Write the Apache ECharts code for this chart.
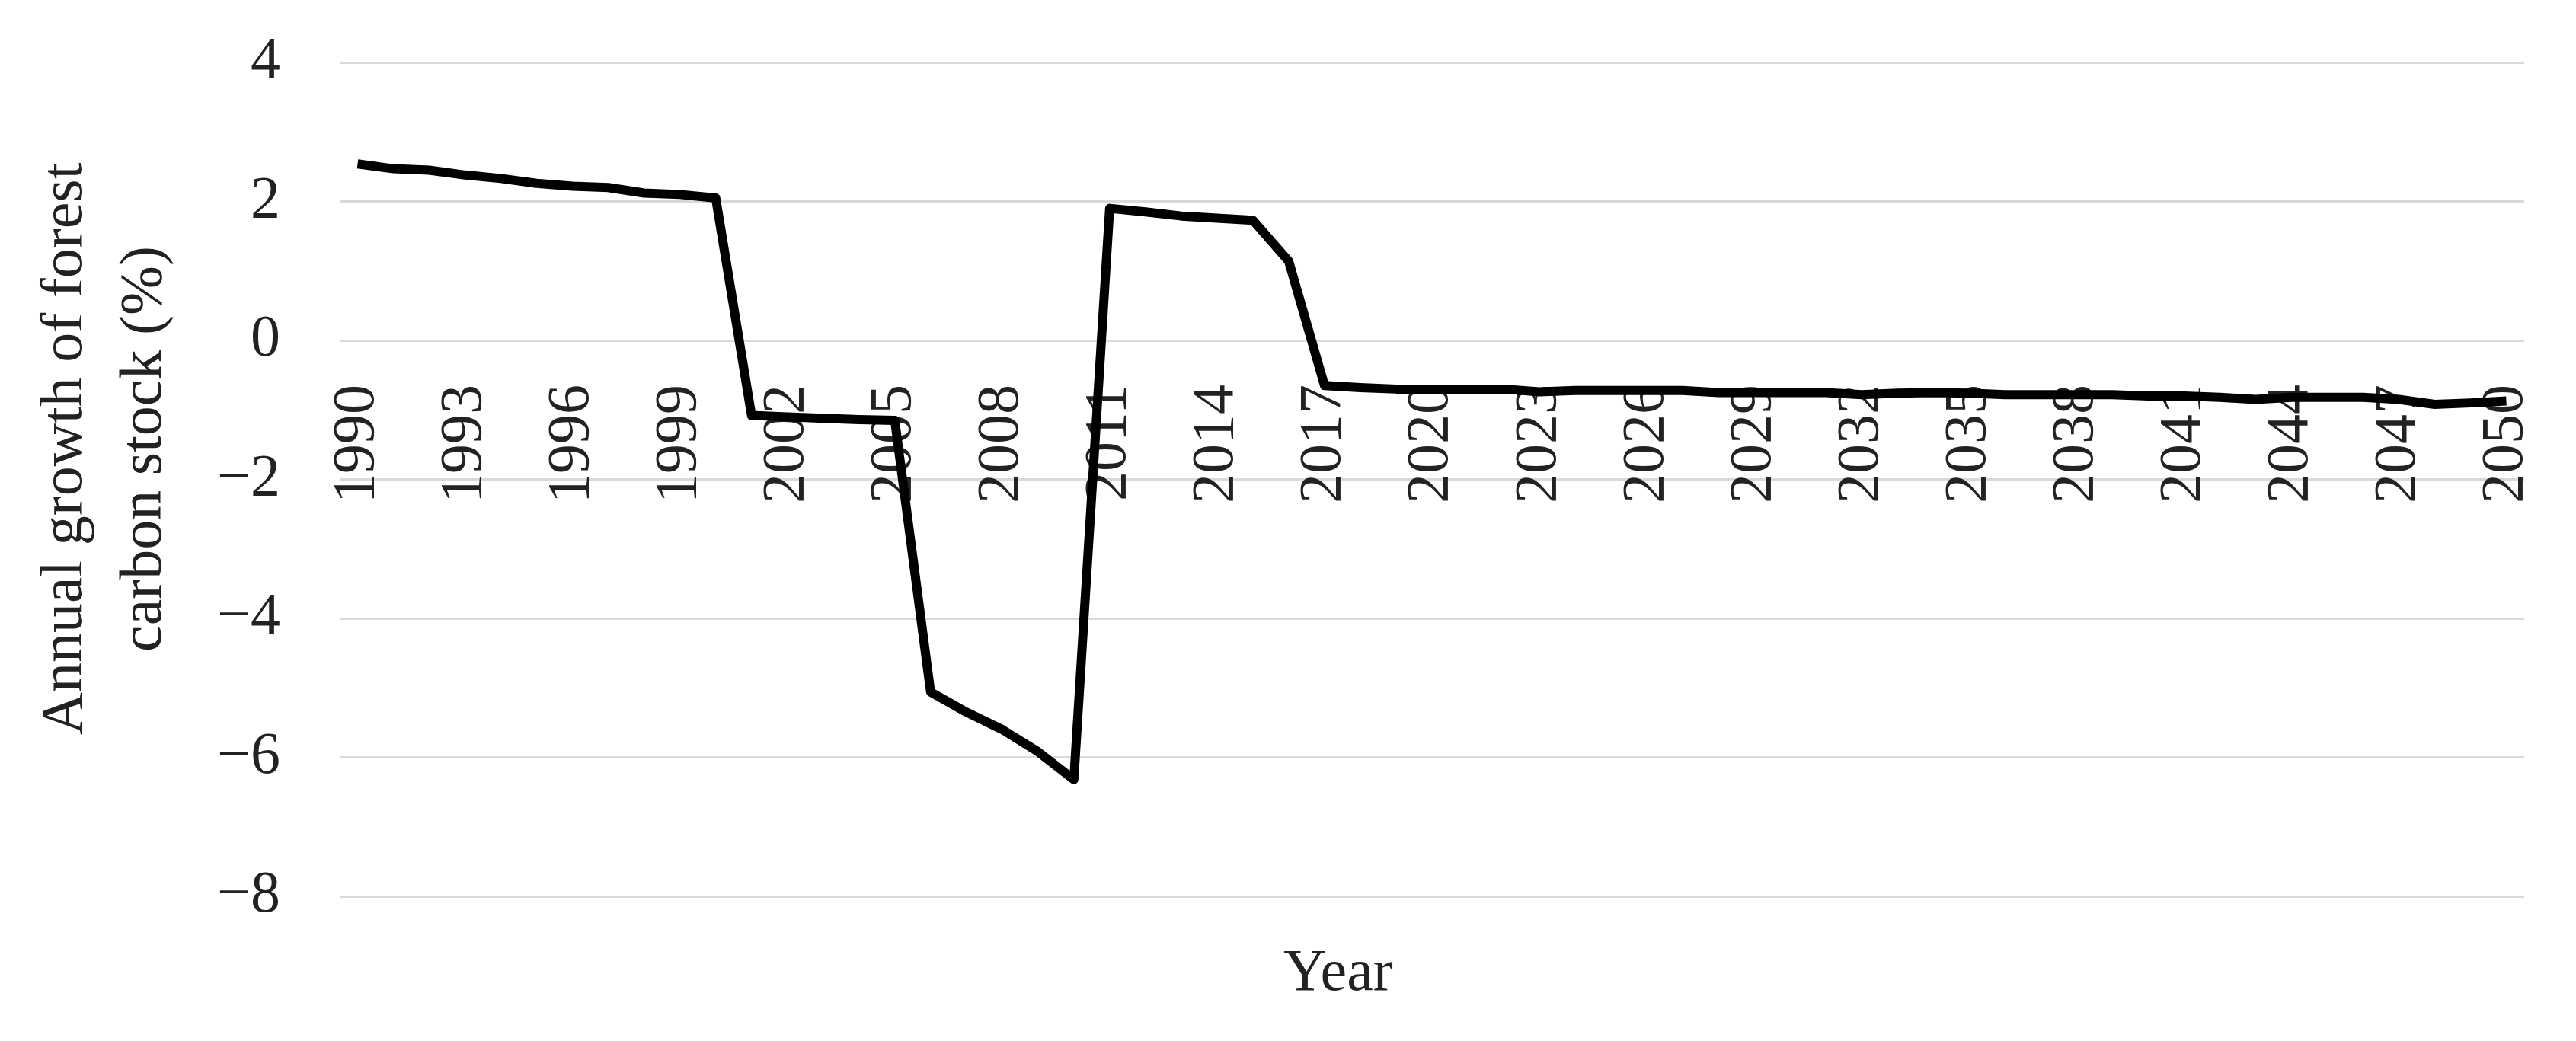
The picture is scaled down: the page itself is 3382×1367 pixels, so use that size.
<!DOCTYPE html>
<html>
<head>
<meta charset="utf-8">
<script src="https://cdn.jsdelivr.net/npm/echarts@6/dist/echarts.min.js"></script>
<style>
  html, body { margin: 0; padding: 0; background: #fff; }
  #chart { width: 3382px; height: 1367px; }
</style>
</head>
<body>
<div id="chart"></div>
<script>
// years 1990..2050
const years = [
  "1990","1991","1992","1993","1994","1995","1996","1997","1998","1999",
  "2000","2001","2002","2003","2004","2005","2006","2007","2008","2009",
  "2010","2011","2012","2013","2014","2015","2016","2017","2018","2019",
  "2020","2021","2022","2023","2024","2025","2026","2027","2028","2029",
  "2030","2031","2032","2033","2034","2035","2036","2037","2038","2039",
  "2040","2041","2042","2043","2044","2045","2046","2047","2048","2049",
  "2050"
];

// annual growth of forest carbon stock (%)
const growth = [
  2.54, 2.47, 2.45, 2.38, 2.33, 2.26, 2.22, 2.20, 2.12, 2.10,
  2.05, -1.08, -1.10, -1.12, -1.14, -1.15, -5.06, -5.35, -5.60, -5.92,
  -6.32, 1.90, 1.85, 1.79, 1.76, 1.73, 1.14, -0.65, -0.68, -0.70,
  -0.70, -0.70, -0.70, -0.74, -0.72, -0.72, -0.72, -0.72, -0.75, -0.75,
  -0.75, -0.75, -0.78, -0.76, -0.75, -0.76, -0.78, -0.78, -0.78, -0.78,
  -0.80, -0.80, -0.82, -0.85, -0.82, -0.82, -0.82, -0.85, -0.92, -0.90,
  -0.87
];

const yTicks = { min: -8, max: 4, interval: 2 };

const font = "Liberation Serif";
const gridTop = 82, gridBottom = 190, chartH = 1367;
// x labels sit along the zero line, as in the original
const plotH = chartH - gridTop - gridBottom;
const zeroFromBottom = plotH * (0 - yTicks.min) / (yTicks.max - yTicks.min);

const chart = echarts.init(document.getElementById("chart"));

chart.setOption({
  animation: false,
  backgroundColor: "#ffffff",
  title: {
    text: "Year",
    left: 1680,
    top: 1236,
    textStyle: { fontFamily: font, fontSize: 78, fontWeight: "normal", color: "#222" }
  },
  grid: { left: 446, right: 68, top: gridTop, bottom: gridBottom },
  xAxis: {
    type: "category",
    data: years,
    boundaryGap: true,
    offset: -zeroFromBottom,
    axisLine: { show: false, onZero: false },
    axisTick: { show: false },
    axisLabel: {
      interval: 2,
      rotate: 90,
      margin: 58,
      fontFamily: font,
      fontSize: 78,
      color: "#222"
    },
    splitLine: { show: false }
  },
  yAxis: {
    type: "value",
    min: yTicks.min,
    max: yTicks.max,
    interval: yTicks.interval,
    name: "Annual growth of forest\ncarbon stock (%)",
    nameLocation: "middle",
    nameGap: 203,
    nameTextStyle: {
      fontFamily: font,
      fontSize: 78,
      lineHeight: 104,
      color: "#222",
      padding: [0, 0, 0, 80]
    },
    axisLine: { show: false },
    axisTick: { show: false },
    axisLabel: {
      margin: 78,
      fontFamily: font,
      fontSize: 78,
      color: "#222",
      formatter: (v) => String(v).replace("-", "\u2212")
    },
    splitLine: { show: true, lineStyle: { color: "#d9d9d9", width: 3 } }
  },
  series: [
    {
      type: "line",
      data: growth,
      symbol: "none",
      lineStyle: { color: "#000", width: 12, join: "round" }
    }
  ]
});
</script>
</body>
</html>
